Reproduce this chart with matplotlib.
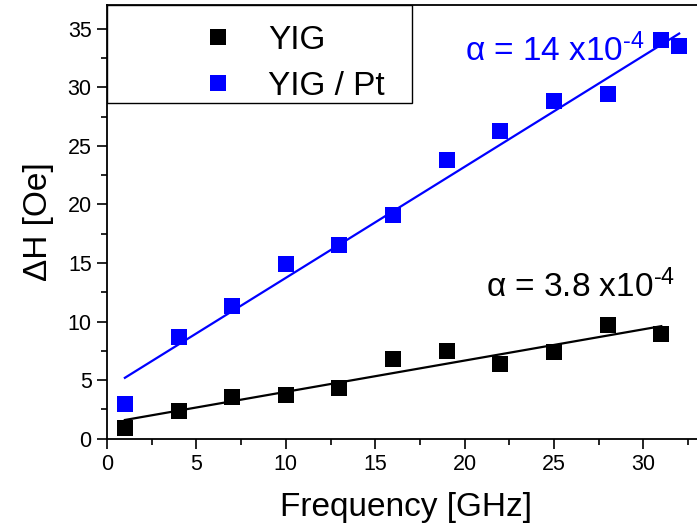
"""Linewidth vs frequency for YIG and YIG/Pt with linear fits."""

import matplotlib

matplotlib.use("Agg")
import matplotlib.pyplot as plt
import numpy as np
from matplotlib.patches import Rectangle
from matplotlib.ticker import MultipleLocator

plt.rcParams["font.family"] = ["Liberation Sans", "DejaVu Sans"]
plt.rcParams["mathtext.fontset"] = "custom"
plt.rcParams["mathtext.rm"] = "Liberation Sans"
plt.rcParams["mathtext.it"] = "Liberation Sans"

# data
freq_yig = [1, 4, 7, 10, 13, 16, 19, 22, 25, 28, 31]
dh_yig = [0.9, 2.4, 3.6, 3.7, 4.3, 6.8, 7.5, 6.4, 7.4, 9.7, 8.9]

freq_pt = [1, 4, 7, 10, 13, 16, 19, 22, 25, 28, 31, 32]
dh_pt = [3.0, 8.7, 11.3, 14.9, 16.5, 19.1, 23.8, 26.3, 28.8, 29.4, 34.0, 33.5]

# fitted lines (intercept, slope) and their span
fit_yig = (1.33, 0.267)
fit_yig_span = (1, 31)
fit_pt = (4.25, 0.948)
fit_pt_span = (1, 32)

labels = ["YIG", "YIG / Pt"]
alpha_labels = [r"α = 3.8 x10$^{\text{-4}}$",
                r"α = 14 x10$^{\text{-4}}$"]

W, H = 697, 531
fig = plt.figure(figsize=(W / 100, H / 100), dpi=100)
ax = fig.add_axes([107 / W, 1 - 438.7 / H, 599 / W, 434 / H])

for x, y, (b, m), span, color, label in (
    (freq_yig, dh_yig, fit_yig, fit_yig_span, "black", labels[0]),
    (freq_pt, dh_pt, fit_pt, fit_pt_span, "#0000ff", labels[1]),
):
    ax.plot(x, y, "s", color=color, markersize=11.5, markeredgewidth=0,
            linestyle="none", label=label, zorder=3)
    xs = np.array(span)
    ax.plot(xs, b + m * xs, color=color, linewidth=1.6, zorder=2)

ax.text(21.2, 12.1, alpha_labels[0], color="black", fontsize=24, va="baseline")
ax.text(20.0, 32.2, alpha_labels[1], color="#0000ff", fontsize=24, va="baseline")

ax.set_xlim(0, 33.5)
ax.set_ylim(0, 37.05)
ax.xaxis.set_major_locator(MultipleLocator(5))
ax.xaxis.set_minor_locator(MultipleLocator(2.5))
ax.yaxis.set_major_locator(MultipleLocator(5))
ax.yaxis.set_minor_locator(MultipleLocator(2.5))
ax.tick_params(which="both", direction="out", width=1.2, labelsize=15.5, pad=4)
ax.tick_params(which="major", length=7)
ax.tick_params(which="minor", length=4)
for side in ax.spines.values():
    side.set_linewidth(1.3)

ax.set_xlabel("Frequency [GHz]", fontsize=24, labelpad=12)
ax.set_ylabel("ΔH [Oe]", fontsize=24, labelpad=10)

# legend box flush with the top-left corner
ax.add_patch(Rectangle((0, 0.774), 0.510, 0.226, transform=ax.transAxes,
                       facecolor="white", edgecolor="black", linewidth=1.0, zorder=4))
leg = ax.legend(loc="upper left", bbox_to_anchor=(201.5 / W, 1 - 25 / H),
                bbox_transform=fig.transFigure, frameon=False, fontsize=24,
                handlelength=1.0, handletextpad=1.0, labelspacing=0.45,
                borderpad=0, borderaxespad=0, numpoints=1)
leg.set_zorder(5)

fig.savefig("out.png", dpi=100)
